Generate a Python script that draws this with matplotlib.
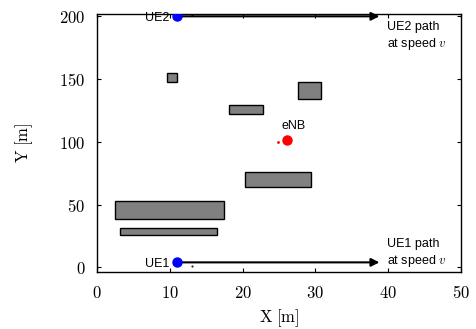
import matplotlib
matplotlib.use("Agg")
import matplotlib.pyplot as plt
from matplotlib.patches import Rectangle

plt.rcParams['mathtext.fontset'] = 'cm'

# buildings: (x, y, width, height) in metres
bld_x = [9.6, 27.6, 18.2, 20.3, 2.4, 3.2]
bld_y = [148.0, 134.0, 122.4, 64.4, 38.6, 25.5]
bld_w = [1.4, 3.2, 4.6, 9.1, 15.1, 13.3]
bld_h = [7.0, 14.0, 7.2, 11.4, 14.6, 5.9]

ue_x = [11.0, 11.0]
ue_y = [4.0, 200.0]
ue_names = ['UE1', 'UE2']
path_end_x = 39.2
small_x = [13.0, 13.0]
small_y = [1.4, 201.0]

enb_x, enb_y = 26.1, 101.5
enb_small_x, enb_small_y = 24.9, 99.5

xticks = [0, 10, 20, 30, 40, 50]
yticks = [0, 50, 100, 150, 200]

fig = plt.figure(figsize=(4.76, 3.29), dpi=100)
ax = fig.add_axes([0.204, 0.172, 0.764, 0.786])

for x, y, w, h in zip(bld_x, bld_y, bld_w, bld_h):
    ax.add_patch(Rectangle((x, y), w, h, facecolor='#808080', edgecolor='black', lw=1.0, zorder=2))

for x, y, name in zip(ue_x, ue_y, ue_names):
    ax.annotate('', xy=(path_end_x, y), xytext=(x, y),
                arrowprops=dict(arrowstyle='-|>', color='black', lw=1.5, mutation_scale=12), zorder=3)
    ax.plot(x, y, 'o', color='blue', markersize=6.5, zorder=4)
    ax.text(x - 1.1, y - 1.5, name, ha='right', va='center', fontsize=9, family='Liberation Sans')
    if name == 'UE1':
        ax.text(39.9, y - 5, name + ' path\nat speed $v$', ha='left', va='bottom',
                fontsize=9, family='Liberation Sans', linespacing=1.2)
    else:
        ax.text(39.9, y - 4, name + ' path\nat speed $v$', ha='left', va='top',
                fontsize=9, family='Liberation Sans', linespacing=1.2)

ax.plot(small_x, small_y, '.', color='black', markersize=1)
ax.plot(enb_x, enb_y, 'o', color='red', markersize=6.5, zorder=4)
ax.plot(enb_small_x, enb_small_y, '.', color='red', markersize=2)
ax.text(enb_x + 0.9, enb_y + 6, 'eNB', ha='center', va='bottom', fontsize=9, family='Liberation Sans')

ax.set_xlim(0, 50)
ax.set_ylim(-4, 202)
ax.set_xticks(xticks)
ax.set_yticks(yticks)
ax.set_xticklabels([f'${t}$' for t in xticks])
ax.set_yticklabels([f'${t}$' for t in yticks])
ax.tick_params(direction='in', top=True, right=True, length=3, labelsize=12, width=0.8, pad=8.5)
ax.set_xlabel(r'$\mathrm{X\ [m]}$', fontsize=12, labelpad=4)
ax.set_ylabel(r'$\mathrm{Y\ [m]}$', fontsize=12, labelpad=17)
for s in ax.spines.values():
    s.set_linewidth(1.0)

fig.savefig('out.png', dpi=100)
